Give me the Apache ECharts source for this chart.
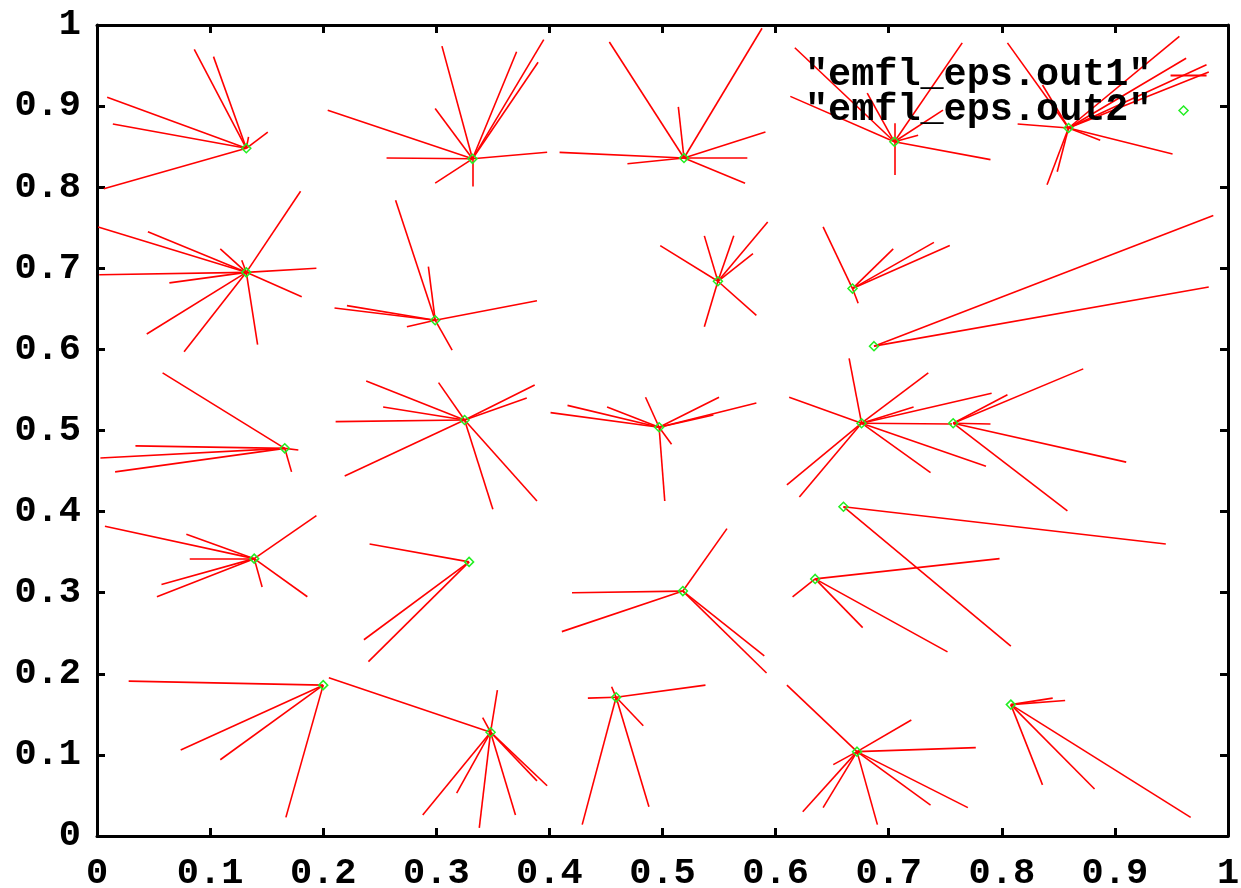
<!DOCTYPE html>
<html>
<head>
<meta charset="utf-8">
<script src="https://cdn.jsdelivr.net/npm/echarts@6/dist/echarts.min.js"></script>
<style>
html,body{margin:0;padding:0;background:#fff;}
#chart{width:1241px;height:888px;}
</style>
</head>
<body>
<div id="chart"></div>
<script>
// Series names (legend)
const seriesNames = ['"emfl_eps.out1"', '"emfl_eps.out2"'];

// Axis ticks
const tickValues = [0, 0.1, 0.2, 0.3, 0.4, 0.5, 0.6, 0.7, 0.8, 0.9, 1];

// "emfl_eps.out2": the point positions (green diamonds)
const centers = [
  [0.132, 0.848], [0.332, 0.835], [0.519, 0.836], [0.705, 0.856], [0.859, 0.873],
  [0.132, 0.695], [0.299, 0.636], [0.549, 0.684], [0.668, 0.675], [0.687, 0.604],
  [0.166, 0.478], [0.325, 0.513], [0.497, 0.504], [0.676, 0.509], [0.757, 0.509],
  [0.660, 0.406], [0.139, 0.342], [0.329, 0.338], [0.518, 0.302], [0.635, 0.317],
  [0.200, 0.186], [0.348, 0.128], [0.459, 0.171], [0.672, 0.104], [0.808, 0.162]
];

// "emfl_eps.out1": end points of the segments drawn from each center
const spokes = [
  [[0.086,0.970],[0.103,0.961],[0.009,0.911],[0.014,0.878],[0.006,0.798],[0.151,0.868],[0.134,0.862]],
  [[0.305,0.974],[0.371,0.967],[0.395,0.982],[0.390,0.954],[0.299,0.897],[0.204,0.895],[0.256,0.836],[0.398,0.843],[0.299,0.805],[0.332,0.801]],
  [[0.453,0.979],[0.588,0.996],[0.514,0.899],[0.591,0.868],[0.575,0.836],[0.573,0.805],[0.469,0.829],[0.409,0.843]],
  [[0.765,0.978],[0.617,0.972],[0.613,0.912],[0.681,0.916],[0.705,0.879],[0.705,0.815],[0.790,0.834],[0.726,0.864],[0.748,0.895]],
  [[0.805,0.978],[0.957,0.986],[0.963,0.959],[0.981,0.951],[0.983,0.942],[0.814,0.878],[0.951,0.841],[0.840,0.803],[0.849,0.819],[0.836,0.926],[0.887,0.858]],
  [[0.001,0.751],[0.045,0.745],[0.180,0.795],[0.109,0.724],[0.128,0.710],[0.194,0.700],[0.002,0.692],[0.064,0.682],[0.181,0.665],[0.044,0.619],[0.077,0.597],[0.142,0.606]],
  [[0.264,0.784],[0.293,0.702],[0.210,0.651],[0.221,0.654],[0.389,0.660],[0.314,0.599],[0.274,0.628]],
  [[0.498,0.728],[0.537,0.740],[0.563,0.740],[0.593,0.757],[0.580,0.718],[0.537,0.628],[0.583,0.642]],
  [[0.642,0.751],[0.704,0.724],[0.740,0.732],[0.754,0.728],[0.673,0.657]],
  [[0.987,0.765],[0.983,0.677]],
  [[0.058,0.571],[0.034,0.481],[0.003,0.466],[0.016,0.449],[0.178,0.476],[0.172,0.449]],
  [[0.302,0.559],[0.387,0.556],[0.380,0.540],[0.350,0.403],[0.389,0.413],[0.219,0.444],[0.238,0.561],[0.253,0.529],[0.211,0.511]],
  [[0.485,0.541],[0.550,0.541],[0.583,0.534],[0.508,0.483],[0.502,0.413],[0.401,0.522],[0.416,0.531],[0.451,0.529],[0.545,0.519]],
  [[0.665,0.589],[0.735,0.571],[0.791,0.546],[0.612,0.541],[0.737,0.448],[0.786,0.456],[0.610,0.433],[0.621,0.418],[0.756,0.508],[0.722,0.529]],
  [[0.872,0.576],[0.805,0.544],[0.790,0.508],[0.910,0.461],[0.858,0.401]],
  [[0.945,0.360],[0.808,0.234]],
  [[0.007,0.382],[0.079,0.372],[0.082,0.342],[0.194,0.395],[0.057,0.310],[0.053,0.295],[0.146,0.307],[0.186,0.295]],
  [[0.241,0.360],[0.236,0.242],[0.240,0.215]],
  [[0.420,0.300],[0.411,0.252],[0.590,0.222],[0.592,0.201],[0.557,0.379]],
  [[0.798,0.342],[0.677,0.257],[0.752,0.227],[0.615,0.295]],
  [[0.028,0.191],[0.074,0.106],[0.109,0.094],[0.167,0.023]],
  [[0.205,0.195],[0.354,0.180],[0.341,0.146],[0.288,0.026],[0.318,0.053],[0.338,0.010],[0.370,0.026],[0.398,0.062],[0.389,0.068]],
  [[0.434,0.170],[0.538,0.186],[0.455,0.184],[0.483,0.136],[0.429,0.014],[0.488,0.036]],
  [[0.720,0.143],[0.777,0.109],[0.610,0.186],[0.651,0.088],[0.624,0.030],[0.642,0.035],[0.690,0.014],[0.737,0.038],[0.770,0.035]],
  [[0.856,0.167],[0.845,0.170],[0.836,0.063],[0.882,0.058],[0.967,0.023]]
];

const segments = [];
centers.forEach(function (c, i) {
  spokes[i].forEach(function (e) { segments.push({ coords: [c, e] }); });
});

const FONT = 'Liberation Mono';
const labelStyle = { color: '#000', fontFamily: FONT, fontWeight: 'bold', fontSize: 37 };
const legendText = { color: '#000', fontFamily: FONT, fontWeight: 'bold', fontSize: 38.5 };
const lineCol = '#ff0000';
const ptCol = '#22ee22';

function makeAxis(pos, showLabel) {
  return {
    type: 'value', position: pos, min: 0, max: 1, interval: 0.1,
    axisLine: { show: true, onZero: false, lineStyle: { color: '#000', width: 3 } },
    axisTick: { show: true, inside: true, length: 8, lineStyle: { color: '#000', width: 3 } },
    splitLine: { show: false },
    axisLabel: Object.assign({ show: showLabel, margin: pos === 'bottom' ? 19 : 16,
      formatter: function (v) { return String(Math.round(v * 10) / 10); } }, labelStyle)
  };
}

const chart = echarts.init(document.getElementById('chart'), null, { renderer: 'canvas' });
chart.setOption({
  animation: false,
  backgroundColor: '#fff',
  grid: { left: 97, right: 13, top: 25, bottom: 52, containLabel: false, outerBoundsMode: 'none' },
  xAxis: [makeAxis('bottom', true), makeAxis('top', false)],
  yAxis: [makeAxis('left', true), makeAxis('right', false)],
  legend: [
    {
      data: [{ name: seriesNames[0], icon: 'path://M0,0H36V2H0Z',
        itemStyle: { color: lineCol, borderWidth: 0 } }],
      left: 805, top: 56, padding: 0, align: 'right',
      itemWidth: 64, itemHeight: 2, symbolKeepAspect: true,
      textStyle: legendText,
      selectedMode: false
    },
    {
      data: [{ name: seriesNames[1], icon: 'path://M5,0L10,5L5,10L0,5Z',
        itemStyle: { color: 'rgba(0,0,0,0)', borderColor: ptCol, borderWidth: 1.5 } }],
      left: 805, top: 91, padding: 0, align: 'right',
      itemWidth: 54, itemHeight: 9, symbolKeepAspect: true,
      textStyle: legendText,
      selectedMode: false
    }
  ],
  series: [
    {
      name: seriesNames[0], type: 'lines', coordinateSystem: 'cartesian2d',
      xAxisIndex: 0, yAxisIndex: 0, silent: true,
      lineStyle: { color: lineCol, width: 1.6, opacity: 1, curveness: 0 },
      data: segments, z: 2
    },
    {
      name: seriesNames[1], type: 'scatter', xAxisIndex: 0, yAxisIndex: 0,
      symbol: 'diamond', symbolSize: 9, silent: true,
      itemStyle: { color: 'rgba(0,0,0,0)', borderColor: ptCol, borderWidth: 1.5, opacity: 1 },
      data: centers, z: 3
    }
  ]
});
</script>
</body>
</html>
